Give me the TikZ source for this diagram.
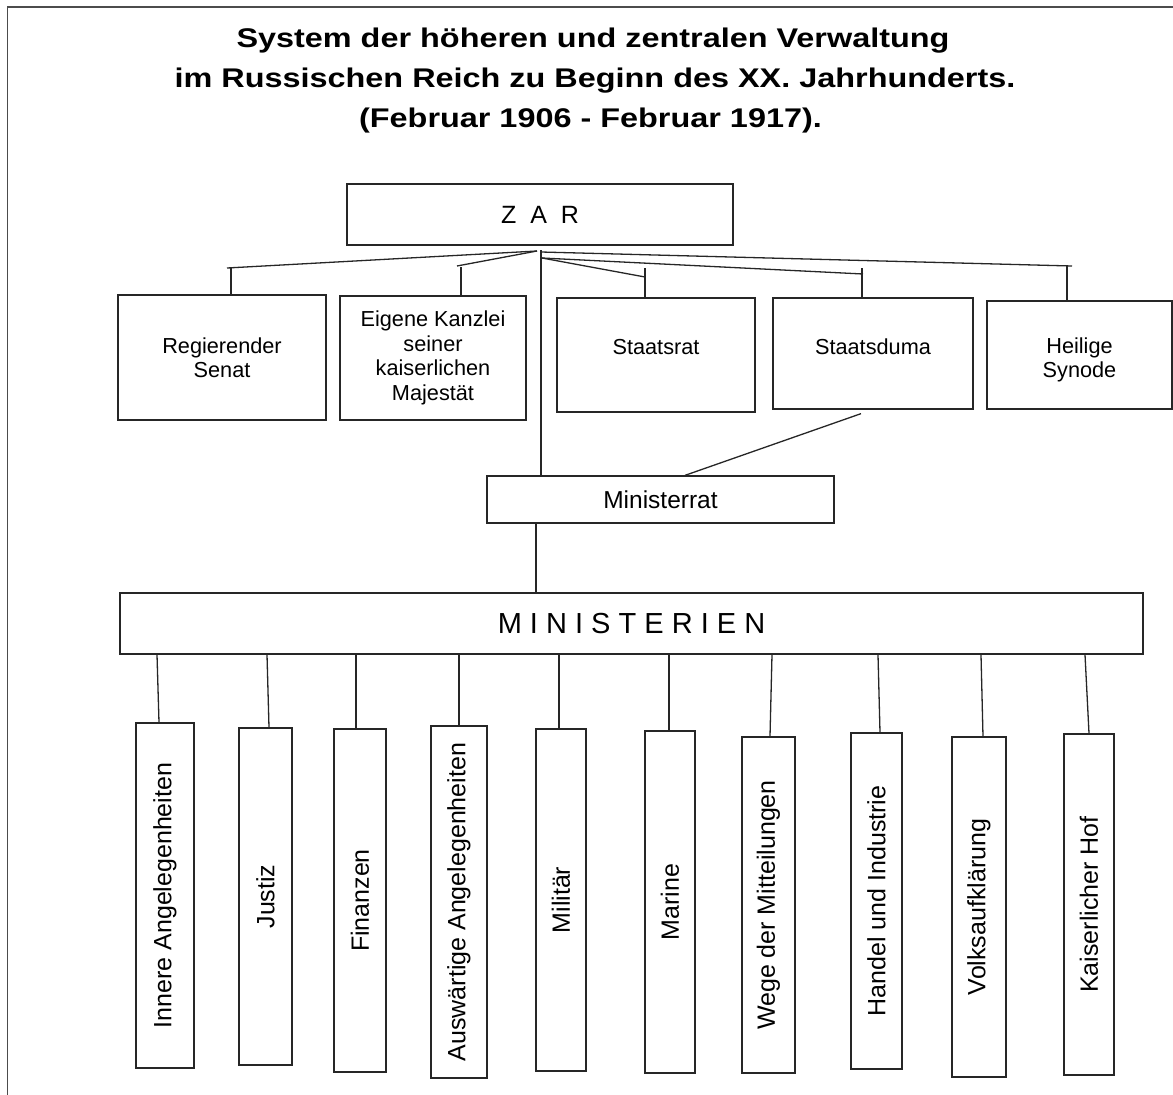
\documentclass[tikz,border=0pt]{standalone}
\usepackage{fontspec}
\usepackage{graphicx}
\setmainfont{Liberation Sans}
\usetikzlibrary{calc}
\begin{document}
\begin{tikzpicture}[x=1pt,y=-1pt, line width=1.3pt,
  conn/.style={draw=black!85, line width=1.3pt},
  title/.style={inner sep=0pt, font=\bfseries\fontsize{27}{32}\selectfont},
  box/.style={draw=black!85, line width=1.3pt, inner sep=0pt, align=center, font=\fontsize{21.7}{24.5}\selectfont},
  lbl/.style={inner sep=0pt, align=center, font=\fontsize{21.7}{24.5}\selectfont},
  vbox/.style={draw=black!85, line width=1.3pt, inner sep=0pt, font=\fontsize{25}{30}\selectfont},
  frame/.style={line width=1.5pt, draw=black!70}]
\useasboundingbox (0,0) rectangle (1173,1095);
\draw[frame] (7.5,1095) -- (7.5,7) -- (1173,7);

% title
\node[title, anchor=base] (t1) at (593,47) {\scalebox{1.2}[1]{System der höheren und zentralen Verwaltung}};
\node[title, anchor=base] (t2) at (595,87) {\scalebox{1.2}[1]{im Russischen Reich zu Beginn des XX. Jahrhunderts.}};
\node[title, anchor=base] (t3) at (590.5,127) {\scalebox{1.2}[1]{(Februar 1906 - Februar 1917).}};

% top level
\node[box, minimum width=386, minimum height=61, font=\fontsize{25}{28}\selectfont] (zar) at (540,214.5) {Z\hspace{7pt} A\hspace{7pt} R};
\node[box, minimum width=208, minimum height=125] (senat) at (222,357.5) {Regierender\\Senat};
\node[box, minimum width=186, minimum height=124] (kanzlei) at (433,358) {Eigene Kanzlei\\seiner\\kaiserlichen\\Majestät};
\node[box, minimum width=198, minimum height=114, label={[lbl, yshift=8pt]center:Staatsrat}] (staatsrat) at (656,355) {};
\node[box, minimum width=200, minimum height=111, label={[lbl, yshift=6.5pt]center:Staatsduma}] (staatsduma) at (873,353.5) {};
\node[box, minimum width=185, minimum height=108, label={[lbl, yshift=-5pt]center:Heilige\\Synode}] (synode) at (1079.5,355) {};
\node[box, minimum width=347, minimum height=47, font=\fontsize{24.5}{28}\selectfont] (ministerrat) at (660.5,499.5) {Ministerrat};
\node[box, minimum width=1023, minimum height=61, font=\fontsize{29}{32}\selectfont] (ministerien) at (631.5,623.5) {M I N I S T E R I E N};

% ministries
\node[vbox, minimum width=58, minimum height=345] (innere) at (165,895.5) {\rotatebox{90}{Innere Angelegenheiten}};
\node[vbox, minimum width=53, minimum height=337] (justiz) at (265.5,896.5) {\rotatebox{90}{Justiz}};
\node[vbox, minimum width=52, minimum height=343] (finanzen) at (360,900.5) {\rotatebox{90}{Finanzen}};
\node[vbox, minimum width=56, minimum height=352] (ausw) at (459,902) {\rotatebox{90}{Auswärtige Angelegenheiten}};
\node[vbox, minimum width=50, minimum height=342] (militaer) at (561,900) {\rotatebox{90}{Militär}};
\node[vbox, minimum width=50, minimum height=342] (marine) at (670,902) {\rotatebox{90}{Marine}};
\node[vbox, minimum width=53, minimum height=336] (wege) at (768.5,905) {\rotatebox{90}{Wege der Mitteilungen}};
\node[vbox, minimum width=51, minimum height=336] (handel) at (876.5,901) {\rotatebox{90}{Handel und Industrie}};
\node[vbox, minimum width=54, minimum height=340] (volks) at (979,907) {\rotatebox{90}{Volksaufklärung}};
\node[vbox, minimum width=50, minimum height=341] (hof) at (1089,904.5) {\rotatebox{90}{Kaiserlicher Hof}};

% connectors from ZAR
\coordinate (za) at (537,251);
\coordinate (zb) at (541,252);
\coordinate (zc) at (542,258);
\coordinate (zv) at (541,250);
\coordinate (senL) at (227,268);
\coordinate (senT) at (231,268);
\coordinate (kanL) at (457,266);
\coordinate (kanT) at (461,267);
\coordinate (sraL) at (645,277);
\coordinate (sraT) at (645,268);
\coordinate (dumL) at (863,274);
\coordinate (dumT) at (862,268);
\coordinate (synL) at (1072,266);
\coordinate (synT) at (1067,266);
\draw[conn] (za) -- (senL);
\draw[conn] (senT) -- (senT |- senat.north);
\draw[conn] (za) -- (kanL);
\draw[conn] (kanT) -- (kanT |- kanzlei.north);
\draw[conn] (zv) -- (zv |- ministerrat.north);
\draw[conn] (zc) -- (sraL);
\draw[conn] (sraT) -- (sraT |- staatsrat.north);
\draw[conn] (zc) -- (dumL);
\draw[conn] (dumT) -- (dumT |- staatsduma.north);
\draw[conn] (zb) -- (synL);
\draw[conn] (synT) -- (synT |- synode.north);

% Duma -> Ministerrat, Ministerrat -> Ministerien
\draw[conn] ($(staatsduma.south)+(-12,4)$) -- ($(ministerrat.north)+(24.5,0)$);
\coordinate (mrx) at (536,0);
\draw[conn] (ministerrat.south -| mrx) -- (ministerien.north -| mrx);

% Ministerien -> ministries
\foreach \n/\a/\b in {innere/-8/-6, justiz/1.5/3.5, finanzen/-4/-4, ausw/0/0, militaer/-2/-2, marine/-1/-1, wege/3.5/1.5, handel/1.5/3.5, volks/2/4, hof/-4/0}
  \draw[conn] ($(ministerien.south -| \n.north)+(\a,0)$) -- ($(\n.north)+(\b,0)$);
\end{tikzpicture}
\end{document}
